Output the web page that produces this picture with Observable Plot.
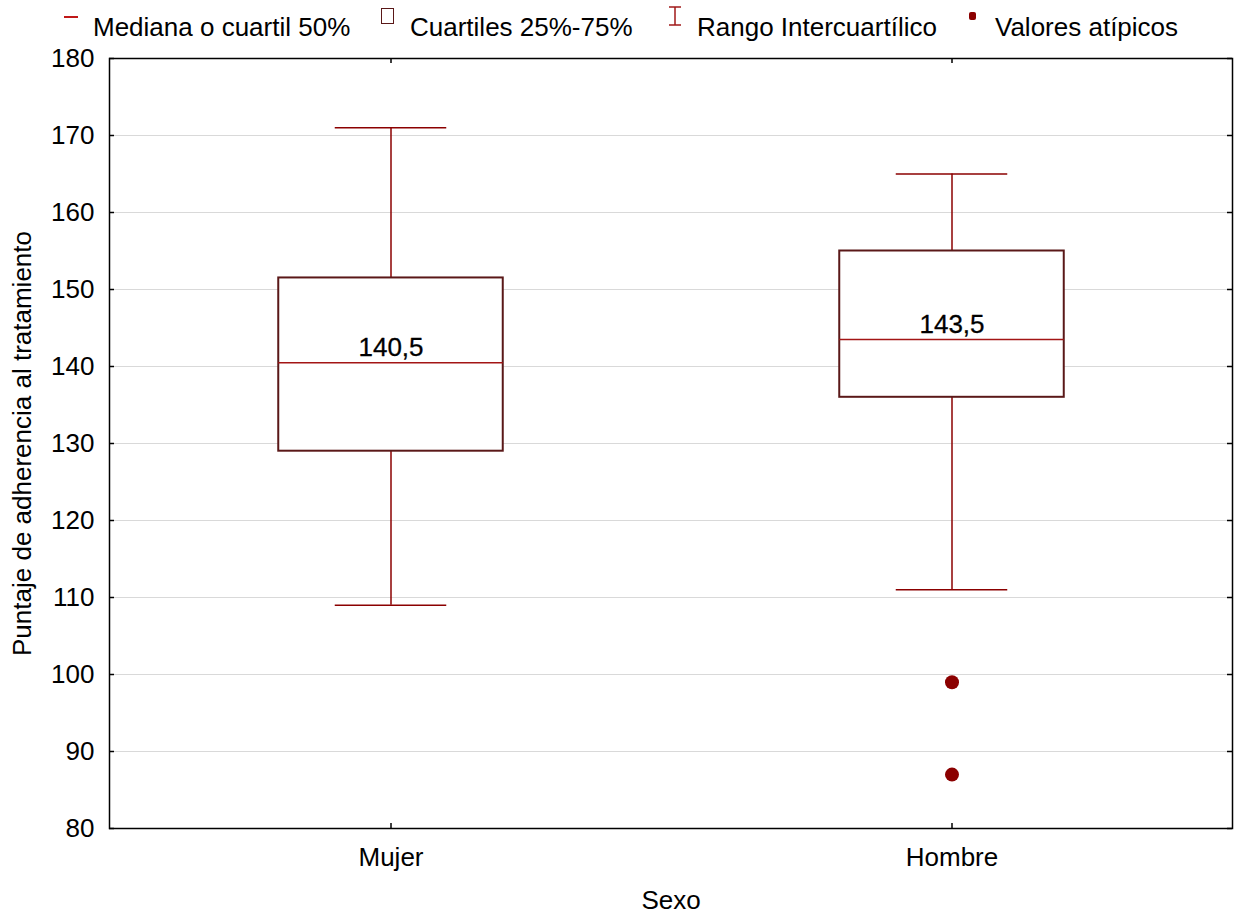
<!DOCTYPE html>
<html>
<head>
<meta charset="utf-8">
<script src="https://cdn.jsdelivr.net/npm/d3@7"></script>
<script src="https://cdn.jsdelivr.net/npm/@observablehq/plot@0.6"></script>
<style>
  html, body { margin: 0; padding: 0; background: #fff; }
  body { width: 1237px; height: 913px; overflow: hidden; font-family: "Liberation Sans", Arial, sans-serif; }
  #legend { position: relative; height: 46px; font-size: 26px; line-height: 1; color: #000; }
  #legend .t { position: absolute; top: 14px; white-space: nowrap; }
  #legend .ic { position: absolute; }
  #chart svg { display: block; overflow: visible; }
</style>
</head>
<body>
<div id="legend">
  <div class="ic" style="left:64px;top:16px;width:14px;height:2px;background:#c01818;"></div>
  <span class="t" style="left:93px;">Mediana o cuartil 50%</span>
  <div class="ic" style="left:381px;top:8px;width:11px;height:14px;border:1px solid #5a1818;background:#fff;"></div>
  <span class="t" style="left:410px;">Cuartiles 25%-75%</span>
  <svg class="ic" style="left:668px;top:5px;" width="14" height="22">
    <line x1="1" y1="2" x2="13" y2="2" stroke="#a01818" stroke-width="1.5"/>
    <line x1="7" y1="2" x2="7" y2="20" stroke="#a01818" stroke-width="1.5"/>
    <line x1="1" y1="20" x2="13" y2="20" stroke="#a01818" stroke-width="1.5"/>
  </svg>
  <span class="t" style="left:697px;">Rango Intercuartílico</span>
  <div class="ic" style="left:969px;top:12px;width:7px;height:8px;border-radius:2px;background:#8b0000;"></div>
  <span class="t" style="left:995px;">Valores atípicos</span>
</div>
<div id="chart"></div>
<script>
// ---- Data ----
const categories = ["Mujer", "Hombre"];
const q1Values = [129, 136];
const q3Values = [151.5, 155];
const medianValues = [140.5, 143.5];
const lowWhiskers = [109, 111];
const highWhiskers = [171, 165];
const outlierCategories = ["Hombre", "Hombre"];
const outlierValues = [99, 87];
const yTicks = [80, 90, 100, 110, 120, 130, 140, 150, 160, 170, 180];

const boxes = categories.map((c, i) => ({
  cat: c, q1: q1Values[i], q3: q3Values[i], median: medianValues[i],
  low: lowWhiskers[i], high: highWhiskers[i]
}));
const outliers = outlierValues.map((v, i) => ({cat: outlierCategories[i], value: v}));

const fmt = v => String(v).replace(".", ",");

const W = 1237, H = 913 - 46;
const mL = 109, mR = 5, mT = 12, mB = 85;
const innerW = W - mL - mR;
const innerH = H - mT - mB;
const band = innerW / categories.length;
const boxInset = (band - 225) / 2;
const capInset = (band - 112) / 2;
const tickLen = 5;

const boxStroke = "#5a1818";
const medianColor = "#a31515";
const whiskerColor = "#8b0000";

const plot = Plot.plot({
  width: W,
  height: H,
  marginLeft: mL, marginRight: mR, marginTop: mT, marginBottom: mB,
  style: {fontFamily: "'Liberation Sans', Arial, sans-serif", fontSize: "26px", color: "#000", background: "#fff"},
  x: {type: "band", domain: categories, padding: 0},
  y: {domain: [80, 180]},
  marks: [
    Plot.gridY(yTicks, {stroke: "#d9d9d9", strokeOpacity: 1, strokeWidth: 1}),
    // whiskers
    Plot.ruleX(boxes, {x: "cat", y1: "low", y2: "q1", stroke: whiskerColor, strokeWidth: 1.5}),
    Plot.ruleX(boxes, {x: "cat", y1: "q3", y2: "high", stroke: whiskerColor, strokeWidth: 1.5}),
    Plot.tickY(boxes, {x: "cat", y: "low", stroke: whiskerColor, strokeWidth: 1.5, insetLeft: capInset, insetRight: capInset}),
    Plot.tickY(boxes, {x: "cat", y: "high", stroke: whiskerColor, strokeWidth: 1.5, insetLeft: capInset, insetRight: capInset}),
    // boxes
    Plot.barY(boxes, {x: "cat", y1: "q1", y2: "q3", fill: "#fff", stroke: boxStroke, strokeWidth: 2, insetLeft: boxInset, insetRight: boxInset}),
    Plot.tickY(boxes, {x: "cat", y: "median", stroke: medianColor, strokeWidth: 1.5, insetLeft: boxInset, insetRight: boxInset}),
    Plot.text(boxes, {x: "cat", y: "median", text: d => fmt(d.median), fill: "#000", fontSize: 26, lineAnchor: "middle", dy: -15, stroke: "#000", strokeWidth: 0.3}),
    // outliers
    Plot.dot(outliers, {x: "cat", y: "value", r: 7, fill: whiskerColor, stroke: "none"}),
    // axes
    Plot.axisY({ticks: yTicks, tickSize: 0, tickPadding: 15, fontSize: 26, label: "Puntaje de adherencia al tratamiento", labelAnchor: "center", labelOffset: 97, labelArrow: "none"}),
    Plot.axisX({tickSize: 0, tickPadding: 19, fontSize: 26, label: "Sexo", labelAnchor: "center", labelOffset: 80, labelArrow: "none"}),
    // inward ticks
    Plot.tickY(yTicks, {y: d => d, stroke: "#000", strokeWidth: 1.5, insetRight: innerW - tickLen}),
    Plot.tickY(yTicks, {y: d => d, stroke: "#000", strokeWidth: 1.5, insetLeft: innerW - tickLen}),
    Plot.tickX(categories, {x: d => d, stroke: "#000", strokeWidth: 1.5, insetTop: innerH - tickLen}),
    Plot.tickX(categories, {x: d => d, stroke: "#000", strokeWidth: 1.5, insetBottom: innerH - tickLen}),
    Plot.frame({stroke: "#000", strokeWidth: 1.5})
  ]
});
document.getElementById("chart").appendChild(plot);
</script>
</body>
</html>
